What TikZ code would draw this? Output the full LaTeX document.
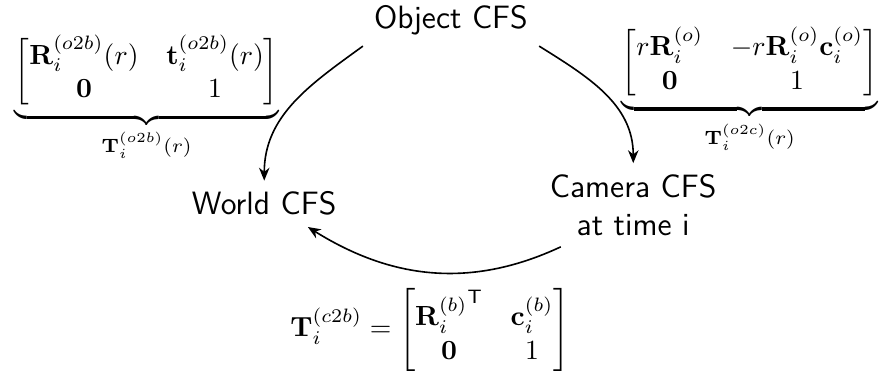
\documentclass[tikz,border=0pt]{standalone}
\usepackage{amsmath}
\usetikzlibrary{arrows.meta}
\newcommand{\tfm}[1]{\scalebox{1.03}{$#1$}}

\begin{document}
\begin{tikzpicture}[
	scale=1.19,
	frame/.style={ font=\large\sffamily, inner sep=4pt },
	frameml/.style={ font=\large\sffamily, align=center, inner sep=4pt },
	mat/.style={ inner sep=0pt },
	link/.style={ semithick, -{Stealth[length=4.8pt,width=3.9pt]} }
]
\useasboundingbox (0,0) rectangle (9.66,-4.13);

\node[frame, anchor=base] at (4.95,-0.31) (obj) {Object CFS};
\node[frame, anchor=base] at (2.90,-2.36) (world) {World CFS};
\node[frameml] at (6.95,-2.25) (cam) {Camera CFS\\at time i};

\node[mat] at (1.61,-1.08) (mo2b) {\tfm{\underbrace{\begin{bmatrix}\mathbf{R}_i^{(o2b)}(r) & \mathbf{t}_i^{(o2b)}(r)\\ \mathbf{0} & 1\end{bmatrix}}_{\mathbf{T}_i^{(o2b)}(r)}}};
\node[mat] at (8.23,-0.99) (mo2c) {\tfm{\underbrace{\begin{bmatrix}r\mathbf{R}_i^{(o)} & -r\mathbf{R}_i^{(o)}\mathbf{c}_i^{(o)}\\ \mathbf{0} & 1\end{bmatrix}}_{\mathbf{T}_i^{(o2c)}(r)}}};
\node[mat] at (4.72,-3.62) (mc2b) {\tfm{\mathbf{T}_i^{(c2b)} = \begin{bmatrix}{\mathbf{R}_i^{(b)}}^{\mathsf{T}} & \mathbf{c}_i^{(b)}\\ \mathbf{0} & 1\end{bmatrix}}};

\draw[link] (obj.south west) to [out=216,in=90] (world.north);
\draw[link] (obj.south east) to [out=-32,in=90] (cam.north);
\draw[link] (cam.-150) to [out=205,in=-32] (world.-28);

\end{tikzpicture}
\end{document}
